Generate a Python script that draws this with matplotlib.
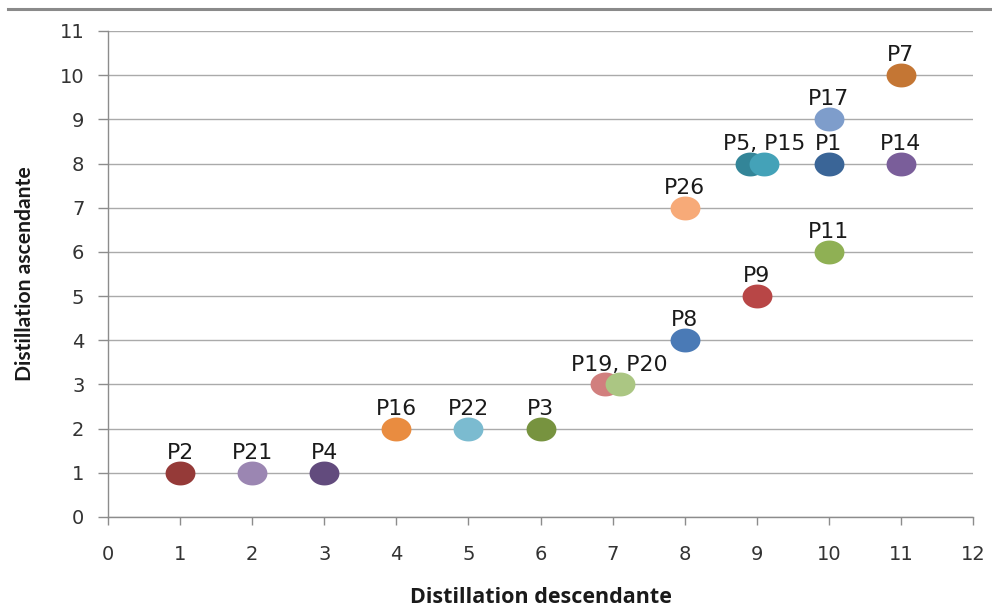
import numpy as np
import matplotlib
matplotlib.use("Agg")
import matplotlib.pyplot as plt
from matplotlib.path import Path
from matplotlib.lines import Line2D

plt.rcParams["font.family"] = ["DejaVu Sans"]

# Sample data: descending vs ascending distillation ranks
names = ["P2", "P21", "P4", "P16", "P22", "P3", "P19", "P20", "P8", "P9",
         "P11", "P26", "P5", "P15", "P1", "P17", "P14", "P7"]
descendante = [1, 2, 3, 4, 5, 6, 6.9, 7.1, 8, 9, 10, 8, 8.9, 9.1, 10, 10, 11, 11]
ascendante = [1, 1, 1, 2, 2, 2, 3, 3, 4, 5, 6, 7, 8, 8, 8, 9, 8, 10]
labels = ["P2", "P21", "P4", "P16", "P22", "P3", "", "P19, P20", "P8", "P9",
          "P11", "P26", "", "P5, P15", "P1", "P17", "P14", "P7"]
colors = ["#953a38", "#9b86b2", "#624b7d", "#e98c40", "#7bbbd0", "#77933f",
          "#d17f7e", "#abc683", "#4a7ab6", "#b84646", "#8fb054", "#f7aa78",
          "#338598", "#44a2b8", "#3a6597", "#7e9dcb", "#7a5e9a", "#c47634"]

x_ticks = list(range(0, 13))
y_ticks = list(range(0, 12))

fig = plt.figure(figsize=(9.92, 6.10), dpi=100)
ax = fig.add_axes([108 / 992, 93 / 610, 865 / 992, 486 / 610])

# Horizontal rule across the top of the figure
fig.add_artist(Line2D([8 / 992, 1.0], [1 - 9 / 610, 1 - 9 / 610],
                      transform=fig.transFigure, color="#8a8a8a", lw=2.2))

# Elliptical marker, wider than tall
t = np.linspace(0, 2 * np.pi, 80)
ellipse = Path(np.column_stack([np.cos(t), 0.8 * np.sin(t)]), closed=True)

ax.set_xlim(0, 12)
ax.set_ylim(0, 11)
ax.set_xticks(x_ticks)
ax.set_yticks(y_ticks)

ax.grid(axis="y", color="#aaaaaa", lw=1.0)
ax.set_axisbelow(True)

for xi, yi, c in zip(descendante, ascendante, colors):
    ax.plot(xi, yi, marker=ellipse, markersize=21.5, color=c,
            markeredgewidth=0, linestyle="none", zorder=3)

for xi, yi, lab in zip(descendante, ascendante, labels):
    if lab:
        ax.annotate(lab, (xi, yi), xytext=(0, 10), textcoords="offset points",
                    ha="center", va="baseline", fontsize=15.8, color="#1a1a1a",
                    family="DejaVu Sans", zorder=4)

for side in ("top", "right"):
    ax.spines[side].set_visible(False)
for side in ("left", "bottom"):
    ax.spines[side].set_color("#8c8c8c")
    ax.spines[side].set_linewidth(1.0)

ax.tick_params(axis="x", direction="out", length=6, width=1, color="#8c8c8c",
               pad=14, labelsize=14, labelcolor="#333333")
ax.tick_params(axis="y", direction="out", length=7, width=1, color="#8c8c8c",
               pad=10, labelsize=14, labelcolor="#333333")
for lab in ax.get_xticklabels() + ax.get_yticklabels():
    lab.set_family("DejaVu Sans")

ax.set_xlabel("Distillation descendante", family="Open Sans", fontweight="bold",
              fontsize=15.5, color="#1a1a1a", labelpad=17)
ax.set_ylabel("Distillation ascendante", family="Lato", fontweight="bold",
              fontsize=15.2, color="#1a1a1a", labelpad=18)

fig.savefig("out.png", dpi=100)
